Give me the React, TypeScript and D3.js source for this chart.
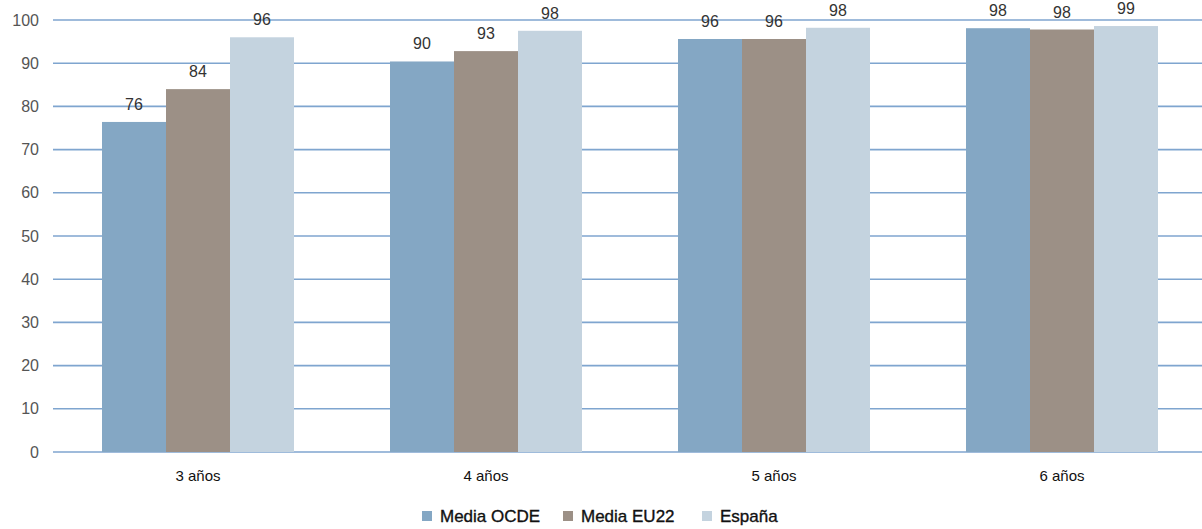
import React from "react";
import * as d3 from "d3";

const categories = ["3 años", "4 años", "5 años", "6 años"];
const seriesNames = ["Media OCDE", "Media EU22", "España"];
const ocde = [76.4, 90.4, 95.6, 98.1];
const eu22 = [84.0, 92.8, 95.6, 97.8];
const espana = [96.0, 97.5, 98.2, 98.6];
const yTicks = [0, 10, 20, 30, 40, 50, 60, 70, 80, 90, 100];
const colors = ["#84a7c4", "#9c9086", "#c4d3df"];

const W = 1202;
const H = 529;

export default function App() {
  const series = [ocde, eu22, espana];
  const x0 = d3.scaleBand().domain(categories).range([54, 1206]).paddingInner(1 / 3).paddingOuter(1 / 6);
  const x1 = d3.scaleBand().domain(seriesNames).range([0, x0.bandwidth()]);
  const y = d3.scaleLinear().domain([0, 100]).range([452, 20]);
  const font = "'Liberation Sans', Arial, sans-serif";

  const legendX = [422, 563, 702];

  return (
    <div style={{ position: "fixed", left: 0, top: 0 }}>
      <svg width={W} height={H} style={{ display: "block", background: "#fff" }} fontFamily={font}>
        {yTicks.map((t) => (
          <g key={t}>
            <line x1={53} x2={W} y1={y(t)} y2={y(t)} stroke="#7fa5cf" strokeWidth={1.6} />
            <text x={39} y={y(t)} dy="0.35em" textAnchor="end" fontSize={16} fill="#555">
              {t}
            </text>
          </g>
        ))}
        {categories.map((c, i) => (
          <g key={c} transform={`translate(${x0(c)},0)`}>
            {seriesNames.map((s, j) => {
              const v = series[j][i];
              const bx = x1(s) as number;
              return (
                <g key={s}>
                  <rect x={bx} y={y(v)} width={x1.bandwidth()} height={y(0) - y(v)} fill={colors[j]} />
                  <text
                    x={bx + x1.bandwidth() / 2}
                    y={y(v) - 12}
                    textAnchor="middle"
                    fontSize={16}
                    fill="#333"
                  >
                    {Math.round(v)}
                  </text>
                </g>
              );
            })}
            <text x={x0.bandwidth() / 2} y={476} dy="0.35em" textAnchor="middle" fontSize={15} fill="#111">
              {c}
            </text>
          </g>
        ))}
        {seriesNames.map((s, j) => (
          <g key={s}>
            <rect x={legendX[j]} y={511} width={10} height={10} fill={colors[j]} />
            <text x={legendX[j] + 18} y={516} dy="0.35em" fontSize={17} fill="#111" stroke="#111" strokeWidth={0.35}>
              {s}
            </text>
          </g>
        ))}
      </svg>
    </div>
  );
}
